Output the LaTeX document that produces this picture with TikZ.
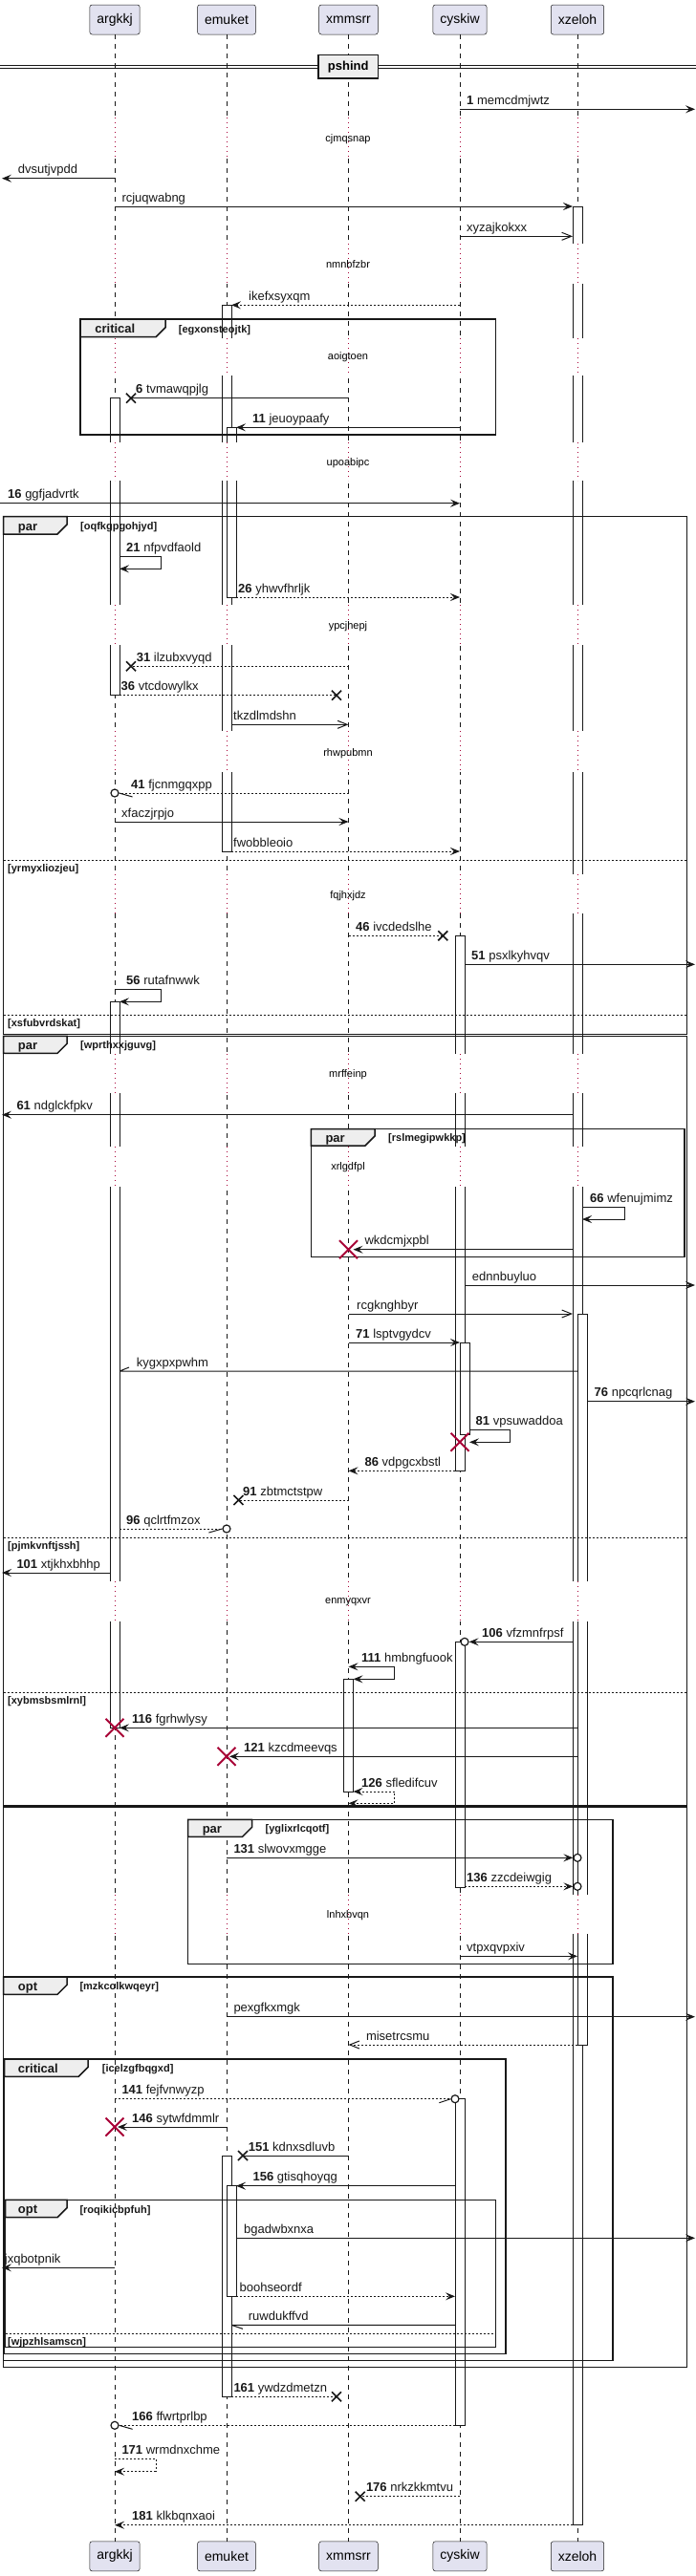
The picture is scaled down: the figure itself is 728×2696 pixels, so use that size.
\documentclass[tikz,border=0pt]{standalone}
\usepackage{fontspec}
\setmainfont{Liberation Sans}
\usetikzlibrary{arrows.meta,calc,shapes.misc}
\definecolor{ink}{HTML}{181818}
\definecolor{crim}{HTML}{A80036}
\definecolor{ptfill}{HTML}{E2E2F0}
\definecolor{tabfill}{HTML}{EEEEEE}

\begin{document}
\begin{tikzpicture}[x=1pt,y=-1pt,
  >={Stealth[length=10pt,width=8pt,inset=4pt]},
  ptcp/.style={draw=ink,fill=ptfill,line width=0.5pt,rounded corners=2.5pt,minimum height=31pt,inner xsep=7.5pt,inner ysep=0pt,font=\fontsize{14}{16}\selectfont},
  life/.style={draw=ink,line width=0.5pt,dash pattern=on 5pt off 5pt},
  act/.style={draw=ink,fill=white,line width=1pt},
  delayline/.style={draw=crim,line width=1pt,dash pattern=on 1pt off 4pt},
  delaytext/.style={font=\fontsize{11}{13}\selectfont,text height=8pt,text depth=2.5pt,inner sep=0pt},
  frame/.style={draw=ink,line width=1.5pt},
  tab/.style={draw=ink,fill=tabfill,line width=1.5pt},
  sep/.style={draw=ink,line width=1pt,dash pattern=on 2pt off 2pt},
  plain/.style={draw=ink,line width=1pt},
  dashline/.style={plain,dash pattern=on 2pt off 2pt},
  sync/.style={plain,->},
  reply/.style={sync,dash pattern=on 2pt off 2pt},
  async/.style={plain,-{Straight Barb[length=10pt,width=8pt]}},
  duo/.style={plain,<->},
  lost/.style={cross out,draw=ink,solid,line width=1.6pt,minimum size=10pt,inner sep=0pt,outer sep=0pt},
  kill/.style={cross out,draw=crim,solid,line width=2pt,minimum size=19pt,inner sep=0pt,outer sep=0pt},
  ring/.style={circle,draw=ink,solid,fill=white,line width=1.2pt,minimum size=8pt,inner sep=0pt},
  lbl/.style={anchor=base west,inner sep=0pt,text=ink,font=\fontsize{13}{15}\selectfont},
  grp/.style={anchor=base west,inner sep=0pt,text=ink,font=\fontsize{13}{15}\selectfont\bfseries},
  guard/.style={anchor=base west,inner sep=0pt,text=ink,font=\fontsize{11}{13}\selectfont\bfseries}]
\useasboundingbox (0,0) rectangle (728,2696);

\node[ptcp] (argkkj) at (120,20.5) {argkkj};
\node[ptcp] (emuket) at (237,20.5) {emuket};
\node[ptcp] (xmmsrr) at (364.5,20.5) {xmmsrr};
\node[ptcp] (cyskiw) at (481,20.5) {cyskiw};
\node[ptcp] (xzeloh) at (604,20.5) {xzeloh};
\node[ptcp] (argkkjB) at (120,2675.3) {argkkj};
\node[ptcp] (emuketB) at (237,2675.3) {emuket};
\node[ptcp] (xmmsrrB) at (364.5,2675.3) {xmmsrr};
\node[ptcp] (cyskiwB) at (481,2675.3) {cyskiw};
\node[ptcp] (xzelohB) at (604,2675.3) {xzeloh};
\coordinate (rim) at (727,0);
\coordinate (lim) at (2,0);

\foreach \p in {argkkj,emuket,xmmsrr,cyskiw,xzeloh}{
  \coordinate (\p L) at ($(\p)+(-5,0)$);
  \coordinate (\p R) at ($(\p)+(5,0)$);
  \coordinate (\p RR) at ($(\p)+(10,0)$);
  \draw[life] (\p.south) -- (\p B.north);
}

\draw[act] (argkkjL |- 0,416.7) rectangle (argkkjR |- 0,727.7);
\draw[act] (argkkjL |- 0,1048.3) rectangle (argkkjR |- 0,1808);
\draw[act] (emuketL |- 0,319.3) rectangle (emuketR |- 0,891);
\draw[act] (emuketL |- 0,2256) rectangle (emuketR |- 0,2508.3);
\draw[act] (xmmsrrL |- 0,1757.3) rectangle (xmmsrrR |- 0,1875);
\draw[act] (cyskiwL |- 0,979.3) rectangle (cyskiwR |- 0,1539.3);
\draw[act] (cyskiwL |- 0,1718.3) rectangle (cyskiwR |- 0,1975);
\draw[act] (cyskiwL |- 0,2196.7) rectangle (cyskiwR |- 0,2538.3);
\draw[act] (xzelohL |- 0,216) rectangle (xzelohR |- 0,2642.7);
\draw[act] (emuket |- 0,447.3) rectangle (emuketRR |- 0,625);
\draw[act] (emuket |- 0,2287.7) rectangle (emuketRR |- 0,2403.3);
\draw[act] (cyskiw |- 0,1405) rectangle (cyskiwRR |- 0,1501.7);
\draw[act] (xzeloh |- 0,1375) rectangle (xzelohRR |- 0,2140);

\foreach \ya/\yb/\word/\ym in {123/166/cjmqsnap/145.7,255/297/nmnbfzbr/277.3,354/393/aoigtoen/374,
  463/503/upoabipc/484.3,633/675/ypcjhepj/655.7,765/808/rhwpubmn/788.3,915/956/fqjhxjdz/937.3,
  1103/1144/mrffeinp/1124.3,1200/1241.7/xrlgdfpl/1221.7,1655/1696.7/enmyqxvr/1676,1983/2024/lnhxbvqn/2005}{
  \foreach \p in {argkkj,emuket,xmmsrr,cyskiw,xzeloh}{
    \fill[white] ($(\p |- 0,\ya)+(-7,0)$) rectangle ($(\p |- 0,\yb)+(12,0)$);
    \draw[delayline] (\p |- 0,\ya) -- (\p |- 0,\yb);
  }
  \node[delaytext] (\word) at (364,\ym) {\word};
}

\draw[ink,line width=1pt] (0,68.3) -- (728,68.3) (0,71.7) -- (728,71.7);
\node[draw=ink,fill=tabfill,line width=1.5pt,minimum width=62.5pt,minimum height=24.7pt,inner sep=0pt,font=\fontsize{13}{15}\selectfont\bfseries] (pshind) at (364.2,69.7) {pshind};

\draw[frame] (84.2,334) rectangle (518.6,455);
\draw[tab] (84.2,334) -- (173,334) -- (173,342.7) -- (163,352.7) -- (84.2,352.7) -- cycle;
\node[grp] (critical1) at (99.2,348.7) {critical};
\node[guard] (egxonsteojtk) at (186.7,348.2) {[egxonsteojtk]};

\draw[frame] (3.7,540.7) rectangle (718.4,1082.7);
\draw[tab] (3.7,540.7) -- (70,540.7) -- (70,549) -- (60,559) -- (3.7,559) -- cycle;
\node[grp] (par1) at (18.7,555) {par};
\node[guard] (oqfkgpgohjyd) at (84,554.5) {[oqfkgpgohjyd]};
\draw[sep] (3.7,900.3) -- (718.4,900.3);
\node[guard] (yrmyxliozjeu) at (8,912.8) {[yrmyxliozjeu]};
\draw[sep] (3.7,1062.3) -- (718.4,1062.3);
\node[guard] (xsfubvrdskat) at (8,1074.8) {[xsfubvrdskat]};

\draw[frame] (3.7,1084.3) rectangle (718.4,1889.3);
\draw[tab] (3.7,1084.3) -- (70,1084.3) -- (70,1092.3) -- (60,1102.3) -- (3.7,1102.3) -- cycle;
\node[grp] (par2) at (18.7,1098.3) {par};
\node[guard] (wprthxxjguvg) at (84,1097.8) {[wprthxxjguvg]};
\draw[sep] (3.7,1609) -- (718.4,1609);
\node[guard] (pjmkvnftjssh) at (8,1621.5) {[pjmkvnftjssh]};
\draw[sep] (3.7,1771) -- (718.4,1771);
\node[guard] (xybmsbsmlrnl) at (8,1783.5) {[xybmsbsmlrnl]};

\draw[frame] (325.3,1181.7) rectangle (716,1315.7);
\draw[tab] (325.3,1181.7) -- (392,1181.7) -- (392,1189) -- (382,1199) -- (325.3,1199) -- cycle;
\node[grp] (par3) at (340.3,1195) {par};
\node[guard] (rslmegipwkkp) at (406,1194.5) {[rslmegipwkkp]};

\draw[frame] (3.7,1891) rectangle (718.4,2477.7);

\draw[frame] (196.6,1904.3) rectangle (641.2,2055.7);
\draw[tab] (196.6,1904.3) -- (263.5,1904.3) -- (263.5,1912.3) -- (253.5,1922.3) -- (196.6,1922.3) -- cycle;
\node[grp] (par4) at (211.6,1918.3) {par};
\node[guard] (yglixrlcqotf) at (277.5,1917.8) {[yglixrlcqotf]};

\draw[frame] (3.7,2069) rectangle (641.2,2470.7);
\draw[tab] (3.7,2069) -- (70,2069) -- (70,2077.3) -- (60,2087.3) -- (3.7,2087.3) -- cycle;
\node[grp] (opt1) at (18.7,2083.3) {opt};
\node[guard] (mzkcolkwqeyr) at (83.3,2082.8) {[mzkcolkwqeyr]};

\draw[frame] (4.7,2155) rectangle (528.8,2463.3);
\draw[tab] (4.7,2155) -- (92.2,2155) -- (92.2,2163.3) -- (82.2,2173.3) -- (4.7,2173.3) -- cycle;
\node[grp] (critical2) at (18.7,2169.3) {critical};
\node[guard] (icelzgfbqgxd) at (106.7,2168.8) {[icelzgfbqgxd]};

\draw[frame] (5.6,2302.3) rectangle (518.6,2456.7);
\draw[tab] (5.6,2302.3) -- (70,2302.3) -- (70,2310.7) -- (60,2320.7) -- (5.6,2320.7) -- cycle;
\node[grp] (opt2) at (18.7,2316.7) {opt};
\node[guard] (roqikicbpfuh) at (83.3,2316.2) {[roqikicbpfuh]};
\draw[sep] (5.6,2442.3) -- (518.6,2442.3);
\node[guard] (wjpzhlsamscn) at (8,2454.8) {[wjpzhlsamscn]};

\draw[sync] (cyskiw |- 0,114.3) -- (rim |- 0,114.3);
\node[lbl] (memcdmjwtz) at (488,109.3) {\textbf{1} memcdmjwtz};
\draw[sync] (argkkj |- 0,186.7) -- (lim |- 0,186.7);
\node[lbl] (dvsutjvpdd) at (18.7,181.7) {dvsutjvpdd};
\draw[sync] (argkkj |- 0,216) -- (xzelohL |- 0,216);
\node[lbl] (rcjuqwabng) at (127.3,211) {rcjuqwabng};
\draw[async] (cyskiw |- 0,247.3) -- (xzelohL |- 0,247.3);
\node[lbl] (xyzajkokxx) at (488,242.3) {xyzajkokxx};
\draw[reply] (cyskiw |- 0,319.3) -- (emuketR |- 0,319.3);
\node[lbl] (ikefxsyxqm) at (260,314.3) {ikefxsyxqm};
\draw[plain] (xmmsrr |- 0,416.7) -- ($(argkkjR |- 0,416.7)+(12,0)$) node[lost] (x6) {};
\node[lbl] (tvmawqpjlg) at (142,411.7) {\textbf{6} tvmawqpjlg};
\draw[sync] (cyskiw |- 0,447.3) -- (emuketRR |- 0,447.3);
\node[lbl] (jeuoypaafy) at (264,442.3) {\textbf{11} jeuoypaafy};
\draw[sync] (0,526.7) -- (cyskiw |- 0,526.7);
\node[lbl] (ggfjadvrtk) at (8,521.7) {\textbf{16} ggfjadvrtk};
\draw[sync] (argkkjR |- 0,582.3) -- ++(43,0) -- ++(0,13) -- (argkkjR |- 0,595.3);
\node[lbl] (nfpvdfaold) at (132,577.3) {\textbf{21} nfpvdfaold};
\draw[reply] (emuketRR |- 0,625) -- (cyskiw |- 0,625);
\node[lbl] (yhwvfhrljk) at (249,620) {\textbf{26} yhwvfhrljk};
\draw[dashline] (xmmsrr |- 0,697.3) -- ($(argkkjR |- 0,697.3)+(12,0)$) node[lost] (x31) {};
\node[lbl] (ilzubxvyqd) at (142.7,692.3) {\textbf{31} ilzubxvyqd};
\draw[dashline] (argkkjR |- 0,727.7) -- ($(xmmsrr |- 0,727.7)+(-12.5,0)$) node[lost] (x36) {};
\node[lbl] (vtcdowylkx) at (126.5,722.7) {\textbf{36} vtcdowylkx};
\draw[async] (emuketR |- 0,758.3) -- (xmmsrr |- 0,758.3);
\node[lbl] (tkzdlmdshn) at (244,753.3) {tkzdlmdshn};
\node[ring] (o41) at (argkkj |- 0,830) {};
\draw[dashline] (xmmsrr |- 0,830) -- (o41.east);
\draw[plain] (o41.east) -- ++(14,4);
\node[lbl] (fjcnmgqxpp) at (137,825) {\textbf{41} fjcnmgqxpp};
\draw[sync] (argkkj |- 0,860) -- (xmmsrr |- 0,860);
\node[lbl] (xfaczjrpjo) at (127,855) {xfaczjrpjo};
\draw[reply] (emuketR |- 0,891) -- (cyskiw |- 0,891);
\node[lbl] (fwobbleoio) at (244,886) {fwobbleoio};
\draw[dashline] (xmmsrr |- 0,979.3) -- ($(cyskiwL |- 0,979.3)+(-12.7,0)$) node[lost] (x46) {};
\node[lbl] (ivcdedslhe) at (372,974.3) {\textbf{46} ivcdedslhe};
\draw[sync] (cyskiwR |- 0,1009.3) -- (rim |- 0,1009.3);
\node[lbl] (psxlkyhvqv) at (493,1004.3) {\textbf{51} psxlkyhvqv};
\draw[sync] (argkkj |- 0,1035.7) -- ++(48,0) -- ++(0,12.6) -- (argkkjR |- 0,1048.3);
\node[lbl] (rutafnwwk) at (132,1030.7) {\textbf{56} rutafnwwk};
\draw[sync] (xzelohL |- 0,1166.7) -- (lim |- 0,1166.7);
\node[lbl] (ndglckfpkv) at (17.3,1161.7) {\textbf{61} ndglckfpkv};
\draw[sync] (xzelohR |- 0,1263.3) -- ++(44,0) -- ++(0,12.7) -- (xzelohR |- 0,1276);
\node[lbl] (wfenujmimz) at (617,1258.3) {\textbf{66} wfenujmimz};
\draw[sync] (xzelohL |- 0,1307.7) -- (xmmsrrR |- 0,1307.7);
\node[kill] (k1) at (xmmsrr |- 0,1307.7) {};
\node[lbl] (wkdcmjxpbl) at (381.4,1302.7) {wkdcmjxpbl};
\draw[sync] (cyskiwR |- 0,1345) -- (rim |- 0,1345);
\node[lbl] (ednnbuyluo) at (493.7,1340) {ednnbuyluo};
\draw[async] (xmmsrr |- 0,1375) -- (xzelohL |- 0,1375);
\node[lbl] (rcgknghbyr) at (373,1370) {rcgknghbyr};
\draw[sync] (xmmsrr |- 0,1405) -- (cyskiw |- 0,1405);
\node[lbl] (lsptvgydcv) at (372,1400) {\textbf{71} lsptvgydcv};
\draw[plain] (xzeloh |- 0,1435) -- (argkkjR |- 0,1435) (argkkjR |- 0,1435) -- ++(10,-4);
\node[lbl] (kygxpxpwhm) at (142.7,1430) {kygxpxpwhm};
\draw[sync] (xzelohRR |- 0,1466.7) -- (rim |- 0,1466.7);
\node[lbl] (npcqrlcnag) at (621.5,1461.7) {\textbf{76} npcqrlcnag};
\draw[sync] (cyskiwRR |- 0,1496.7) -- ++(42.5,0) -- ++(0,12.6) -- (cyskiwRR |- 0,1509.3);
\node[kill] (k2) at (cyskiw |- 0,1509.3) {};
\node[lbl] (vpsuwaddoa) at (497.5,1491.7) {\textbf{81} vpsuwaddoa};
\draw[reply] (cyskiwL |- 0,1539.3) -- (xmmsrr |- 0,1539.3);
\node[lbl] (vdpgcxbstl) at (381.4,1534.3) {\textbf{86} vdpgcxbstl};
\draw[dashline] (xmmsrr |- 0,1570) -- ($(emuket |- 0,1570)+(12.4,0)$) node[lost] (x91) {};
\node[lbl] (zbtmctstpw) at (254,1565) {\textbf{91} zbtmctstpw};
\node[ring] (o96) at (emuket |- 0,1600) {};
\draw[dashline] (argkkjR |- 0,1600) -- (o96.west);
\draw[plain] (o96.west) -- ++(-14,4);
\node[lbl] (qclrtfmzox) at (132,1595) {\textbf{96} qclrtfmzox};
\draw[sync] (argkkjL |- 0,1646) -- (lim |- 0,1646);
\node[lbl] (xtjkhxbhhp) at (17.3,1641) {\textbf{101} xtjkhxbhhp};
\node[ring] (o106) at (cyskiwR |- 0,1718.3) {};
\draw[sync] (xzelohL |- 0,1718.3) -- (o106.east);
\node[lbl] (vfzmnfrpsf) at (504,1713.3) {\textbf{106} vfzmnfrpsf};
\draw[duo] (xmmsrr |- 0,1744.3) -- ++(48.3,0) -- ++(0,13) -- (xmmsrrR |- 0,1757.3);
\node[lbl] (hmbngfuook) at (378,1739.3) {\textbf{111} hmbngfuook};
\draw[sync] (xzeloh |- 0,1808.3) -- (argkkjR |- 0,1808.3);
\node[kill] (k3) at (argkkj |- 0,1808.3) {};
\node[lbl] (fgrhwlysy) at (138,1803.3) {\textbf{116} fgrhwlysy};
\draw[sync] (xzeloh |- 0,1838.3) -- ($(emuket |- 0,1838.3)+(3,0)$);
\node[kill] (k4) at (emuket |- 0,1838.3) {};
\node[lbl] (kzcdmeevqs) at (255,1833.3) {\textbf{121} kzcdmeevqs};
\draw[duo,dash pattern=on 2pt off 2pt] (xmmsrrR |- 0,1875) -- ++(43.3,0) -- ++(0,12.3) -- (xmmsrr |- 0,1887.3);
\node[lbl] (sfledifcuv) at (378,1870) {\textbf{126} sfledifcuv};
\node[ring] (o131) at (xzeloh |- 0,1944.3) {};
\draw[sync] (emuket |- 0,1944.3) -- (o131.west);
\node[lbl] (slwovxmgge) at (244.3,1939.3) {\textbf{131} slwovxmgge};
\node[ring] (o136) at (xzeloh |- 0,1974.3) {};
\draw[reply] (cyskiwR |- 0,1974.3) -- (o136.west);
\node[lbl] (zzcdeiwgig) at (488,1969.3) {\textbf{136} zzcdeiwgig};
\draw[sync] (cyskiw |- 0,2047.3) -- (xzeloh |- 0,2047.3);
\node[lbl] (vtpxqvpxiv) at (488,2042.3) {vtpxqvpxiv};
\draw[sync] (emuket |- 0,2110.7) -- (rim |- 0,2110.7);
\node[lbl] (pexgfkxmgk) at (244.3,2105.7) {pexgfkxmgk};
\draw[async,dash pattern=on 2pt off 2pt] (xzeloh |- 0,2140) -- (xmmsrr |- 0,2140);
\node[lbl] (misetrcsmu) at (382.8,2135) {misetrcsmu};
\node[ring] (o141) at (cyskiwL |- 0,2196.7) {};
\draw[dashline] (argkkj |- 0,2196.7) -- (o141.west);
\draw[plain] (o141.west) -- ++(-12,4);
\node[lbl] (fejfvnwyzp) at (127.3,2191.7) {\textbf{141} fejfvnwyzp};
\draw[sync] (emuket |- 0,2226) -- ($(argkkj |- 0,2226)+(3,0)$);
\node[kill] (k5) at (argkkj |- 0,2226) {};
\node[lbl] (sytwfdmmlr) at (138,2221) {\textbf{146} sytwfdmmlr};
\draw[plain] (xmmsrr |- 0,2256) -- ($(emuketR |- 0,2256)+(12,0)$) node[lost] (x151) {};
\node[lbl] (kdnxsdluvb) at (259.7,2251) {\textbf{151} kdnxsdluvb};
\draw[sync] (cyskiwL |- 0,2287.7) -- (emuketRR |- 0,2287.7);
\node[lbl] (gtisqhoyqg) at (264.4,2282.7) {\textbf{156} gtisqhoyqg};
\draw[sync] (emuketRR |- 0,2342.3) -- (rim |- 0,2342.3);
\node[lbl] (bgadwbxnxa) at (255,2337.3) {bgadwbxnxa};
\draw[sync] (argkkj |- 0,2373.3) -- (lim |- 0,2373.3);
\node[lbl] (jxqbotpnik) at (4.7,2368.3) {jxqbotpnik};
\draw[reply] (emuketRR |- 0,2403.3) -- (cyskiwL |- 0,2403.3);
\node[lbl] (boohseordf) at (250.4,2398.3) {boohseordf};
\draw[plain] (cyskiwL |- 0,2433.3) -- (emuketR |- 0,2433.3) (emuketR |- 0,2433.3) -- ++(12,4);
\node[lbl] (ruwdukffvd) at (259.7,2428.3) {ruwdukffvd};
\draw[dashline] (emuketR |- 0,2508.3) -- ($(xmmsrr |- 0,2508.3)+(-12.5,0)$) node[lost] (x161) {};
\node[lbl] (ywdzdmetzn) at (244.3,2503.3) {\textbf{161} ywdzdmetzn};
\node[ring] (o166) at (argkkj |- 0,2538.3) {};
\draw[dashline] (cyskiwL |- 0,2538.3) -- (o166.east);
\draw[plain] (o166.east) -- ++(14,4);
\node[lbl] (ffwrtprlbp) at (138,2533.3) {\textbf{166} ffwrtprlbp};
\draw[reply] (argkkj |- 0,2573.3) -- ++(43,0) -- ++(0,13.4) -- (argkkj |- 0,2586.7);
\node[lbl] (wrmdnxchme) at (127.3,2568.3) {\textbf{171} wrmdnxchme};
\draw[dashline] (cyskiw |- 0,2612.7) -- ($(xmmsrr |- 0,2612.7)+(12.2,0)$) node[lost] (x176) {};
\node[lbl] (nrkzkkmtvu) at (382.8,2607.7) {\textbf{176} nrkzkkmtvu};
\draw[reply] (xzelohL |- 0,2642.7) -- (argkkj |- 0,2642.7);
\node[lbl] (klkbqnxaoi) at (138,2637.7) {\textbf{181} klkbqnxaoi};
\end{tikzpicture}
\end{document}
